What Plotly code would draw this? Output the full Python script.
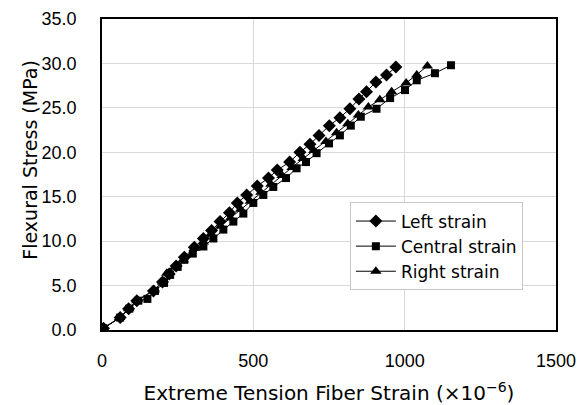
import plotly.graph_objects as go

left_strain = [5, 60, 88, 115, 170, 200, 222, 245, 272, 305, 335, 362, 390, 421, 447, 478, 513, 550, 579, 620, 654, 687, 717, 751, 786, 819, 849, 874, 905, 940, 971]
left_stress = [0.2, 1.4, 2.4, 3.3, 4.4, 5.4, 6.3, 7.2, 8.2, 9.3, 10.3, 11.2, 12.2, 13.2, 14.3, 15.2, 16.2, 17.1, 18.0, 18.9, 20.0, 20.9, 21.9, 23.0, 23.9, 24.9, 26.0, 26.8, 27.9, 28.7, 29.6]

central_strain = [5, 60, 90, 120, 150, 175, 205, 225, 250, 272, 300, 335, 368, 401, 434, 467, 500, 533, 566, 608, 643, 674, 709, 750, 786, 822, 855, 907, 952, 1001, 1040, 1100, 1153]
central_stress = [0.2, 1.4, 2.4, 3.3, 3.5, 4.4, 5.3, 6.2, 7.1, 7.9, 8.6, 9.4, 10.3, 11.3, 12.2, 13.1, 14.3, 15.2, 16.1, 17.1, 18.2, 18.9, 19.9, 21.0, 21.9, 23.0, 24.0, 24.9, 26.1, 27.0, 28.1, 28.9, 29.8]

right_strain = [5, 58, 88, 115, 172, 200, 214, 241, 268, 307, 335, 360, 392, 425, 458, 490, 525, 558, 595, 628, 665, 700, 740, 775, 812, 847, 880, 918, 957, 1005, 1040, 1075]
right_stress = [0.2, 1.4, 2.4, 3.3, 4.5, 5.4, 6.4, 7.1, 7.9, 9.2, 9.9, 10.8, 11.7, 12.6, 13.6, 14.5, 15.5, 16.4, 17.4, 18.3, 19.3, 20.2, 21.2, 22.2, 23.2, 24.2, 25.1, 25.9, 26.8, 27.8, 28.7, 29.7]

x_ticks = [0, 500, 1000, 1500]
y_ticks = [0, 5, 10, 15, 20, 25, 30, 35]

x_title = "Extreme Tension Fiber Strain (×10<sup>−6</sup>)"
y_title = "Flexural Stress (MPa)"

TICK_FONT = "Liberation Sans, Arial, sans-serif"
TEXT_FONT = "DejaVu Sans, Liberation Sans, sans-serif"

fig = go.Figure()
fig.add_trace(go.Scatter(x=left_strain, y=left_stress, mode="lines+markers", name="Left strain",
                         legendgroup="a",
                         line=dict(color="black", width=1),
                         marker=dict(symbol="diamond", size=10, color="black")))
fig.add_trace(go.Scatter(x=central_strain, y=central_stress, mode="lines+markers", name="Central strain",
                         legendgroup="b",
                         line=dict(color="black", width=1),
                         marker=dict(symbol="square", size=8, color="black")))
fig.add_trace(go.Scatter(x=right_strain, y=right_stress, mode="lines+markers", name="Right strain",
                         legendgroup="c",
                         line=dict(color="black", width=1),
                         marker=dict(symbol="triangle-up", size=10, color="black")))

fig.update_layout(
    width=588, height=405,
    margin=dict(l=102, r=32, t=19, b=75),
    paper_bgcolor="white", plot_bgcolor="white",
    font=dict(family=TEXT_FONT, size=17, color="black"),
    showlegend=True,
    legend=dict(x=0.546, y=0.41, xanchor="left", yanchor="top",
                bgcolor="white", bordercolor="#c8c8c8", borderwidth=1,
                font=dict(size=17, family=TEXT_FONT), itemwidth=40, tracegroupgap=0),
    xaxis=dict(range=[0, 1500], tickvals=x_ticks, ticktext=[str(v) for v in x_ticks],
               showgrid=True, gridcolor="#d9d9d9", gridwidth=1,
               showline=True, linecolor="black", linewidth=1.5, mirror=True,
               zeroline=False, ticks="outside", ticklen=14, tickcolor="rgba(0,0,0,0)",
               tickfont=dict(size=18, family=TICK_FONT), automargin=False,
               title=dict(text=x_title, font=dict(size=20), standoff=24)),
    yaxis=dict(range=[0, 35], tickvals=y_ticks, ticktext=[f"{v:.1f}" for v in y_ticks],
               showgrid=True, gridcolor="#d9d9d9", gridwidth=1,
               showline=True, linecolor="black", linewidth=1.5, mirror=True,
               zeroline=False, ticks="outside", ticklen=20, tickcolor="rgba(0,0,0,0)",
               tickfont=dict(size=18, family=TICK_FONT), automargin=False),
    annotations=[dict(text=y_title, textangle=-90, xref="paper", yref="paper",
                      x=-0.159, y=0.547, xanchor="center", yanchor="middle",
                      showarrow=False, font=dict(size=19, family=TEXT_FONT))],
)

fig.write_html("out.html")
